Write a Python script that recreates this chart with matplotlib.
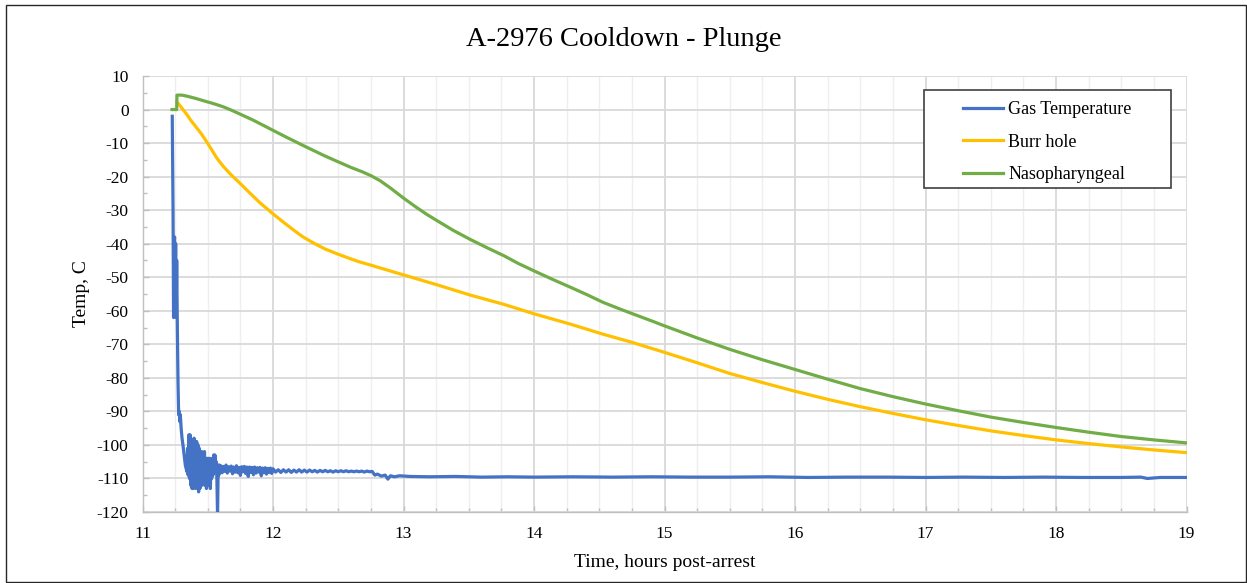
import matplotlib
matplotlib.use("Agg")
import matplotlib.pyplot as plt
from matplotlib.patches import Rectangle
from matplotlib.ticker import MultipleLocator

plt.rcParams['font.family'] = ['Liberation Serif', 'DejaVu Serif']
plt.rcParams['axes.unicode_minus'] = False

# ---------------- data ----------------
# Gas temperature: initial plunge and noisy settling
gas_t_a = [11.228, 11.234, 11.238, 11.242, 11.246, 11.250, 11.254, 11.258, 11.262, 11.267,
           11.272, 11.277, 11.282, 11.286, 11.290, 11.296, 11.303, 11.310, 11.316, 11.322,
           11.328, 11.334, 11.341,
           11.345, 11.350, 11.355, 11.360, 11.365, 11.370, 11.375, 11.380, 11.385, 11.390,
           11.395, 11.400, 11.405, 11.410, 11.415, 11.420, 11.425, 11.430, 11.435, 11.440,
           11.445, 11.450, 11.455, 11.460, 11.465, 11.470, 11.475, 11.480, 11.485, 11.490,
           11.495, 11.500, 11.505, 11.510, 11.515, 11.520, 11.525, 11.530, 11.535, 11.540,
           11.545, 11.550, 11.555, 11.560, 11.565, 11.570, 11.575, 11.580, 11.585, 11.590,
           11.595]
gas_v_a = [-2, -30, -62, -40, -38, -58, -40, -62, -45, -65,
           -81, -91, -90, -93, -91, -95, -98, -100, -102, -104,
           -106, -107, -108,
           -101, -109, -97, -110, -97, -112, -99, -113, -100, -113,
           -98, -111, -99, -113, -99, -112, -100, -114, -101, -113,
           -102, -111, -102, -112, -103, -110, -102, -112, -104, -113,
           -104, -110, -104, -112, -104, -113, -105, -110, -104, -109,
           -103, -108, -103, -108, -105, -110, -121, -106, -109, -106,
           -108]
gas_t_b = [11.60, 11.61, 11.62, 11.63, 11.64, 11.65, 11.66, 11.67, 11.68, 11.69,
           11.70, 11.71, 11.72, 11.73, 11.74, 11.75, 11.76, 11.77, 11.78, 11.79,
           11.80, 11.81, 11.82, 11.83, 11.84, 11.85, 11.86, 11.87, 11.88, 11.89,
           11.90, 11.91, 11.92, 11.93, 11.94, 11.95, 11.96, 11.97, 11.98, 11.99, 12.00]
gas_v_b = [-106.2, -108.3, -106.4, -107.9, -106.0, -108.4, -106.5, -107.8, -106.3, -108.6,
           -106.6, -108.1, -106.2, -108.3, -106.7, -109.1, -106.5, -108.0, -106.4, -108.5,
           -106.6, -109.4, -106.6, -108.2, -106.7, -108.9, -106.6, -108.4, -106.8, -108.1,
           -106.7, -109.2, -106.9, -108.3, -106.8, -108.7, -107.0, -108.2, -106.9, -108.5, -107.1]
gas_t_c = [12.02, 12.04, 12.06, 12.08, 12.10, 12.12, 12.14, 12.16, 12.18, 12.20,
           12.22, 12.24, 12.26, 12.28, 12.30, 12.32, 12.34, 12.36, 12.38, 12.40,
           12.42, 12.44, 12.46, 12.48, 12.50, 12.52, 12.54, 12.56, 12.58, 12.60,
           12.62, 12.64, 12.66, 12.68, 12.70, 12.72, 12.74, 12.76]
gas_v_c = [-108.1, -107.4, -108.2, -107.4, -108.1, -107.4, -108.2, -107.5, -108.1, -107.4,
           -108.1, -107.5, -108.1, -107.5, -108.0, -107.6, -108.1, -107.6, -108.0, -107.6,
           -108.0, -107.7, -108.1, -107.7, -108.0, -107.7, -108.0, -107.7, -108.0, -107.8,
           -108.0, -107.8, -108.0, -107.8, -108.1, -107.8, -108.0, -107.9]
gas_t_d = [12.78, 12.80, 12.83, 12.86, 12.88, 12.90, 12.93, 12.97, 13.05, 13.2, 13.4, 13.6,
           13.8, 14.0, 14.3, 14.6, 14.9, 15.2, 15.5, 15.8, 16.1, 16.4,
           16.7, 17.0, 17.3, 17.6, 17.9, 18.2, 18.5, 18.65, 18.7, 18.8, 19.0]
gas_v_d = [-109.0, -108.7, -109.3, -109.0, -110.2, -109.2, -109.5, -109.2, -109.4, -109.5,
           -109.4, -109.6, -109.5, -109.6, -109.5, -109.6, -109.5, -109.6, -109.6, -109.5,
           -109.7, -109.6, -109.6, -109.7, -109.6, -109.7, -109.6, -109.7, -109.7, -109.6,
           -110.0, -109.7, -109.7]
gas_t = gas_t_a + gas_t_b + gas_t_c + gas_t_d
gas_v = gas_v_a + gas_v_b + gas_v_c + gas_v_d

burr_t = [11.264, 11.30, 11.34, 11.37, 11.41, 11.45, 11.49, 11.53, 11.57, 11.62,
          11.68, 11.75, 11.82, 11.90, 12.0, 12.08, 12.16, 12.23, 12.32, 12.40,
          12.49, 12.58, 12.66, 12.75, 12.87, 13.0, 13.26, 13.51, 13.77, 14.0,
          14.28, 14.53, 14.75, 15.0, 15.25, 15.5, 15.75, 16.0, 16.25, 16.5,
          16.75, 17.0, 17.25, 17.5, 17.75, 18.0, 18.25, 18.5, 18.75, 19.0]
burr_v = [2.3, 0.5, -1.5, -3.2, -5.2, -7.2, -9.5, -12.0, -14.5, -17.0,
          -19.5, -22.1, -24.8, -27.8, -31.1, -33.6, -36.0, -38.0, -40.0, -41.6,
          -43.0, -44.3, -45.4, -46.4, -47.8, -49.3, -52.3, -55.3, -58.1, -60.9,
          -64.0, -67.0, -69.4, -72.4, -75.5, -78.7, -81.4, -84.0, -86.4, -88.6,
          -90.6, -92.5, -94.2, -95.8, -97.2, -98.5, -99.6, -100.6, -101.5, -102.3]

naso_t = [11.226, 11.262, 11.264, 11.30, 11.34, 11.40, 11.47, 11.55, 11.62, 11.67,
          11.75, 11.85, 11.92, 12.0, 12.1, 12.23, 12.31, 12.39, 12.5, 12.6,
          12.68, 12.75, 12.82, 12.9, 13.0, 13.1, 13.18, 13.26, 13.38, 13.51,
          13.64, 13.77, 13.88, 14.0, 14.14, 14.28, 14.4, 14.53, 14.66, 14.79,
          14.9, 15.0, 15.25, 15.5, 15.75, 16.0, 16.25, 16.5, 16.75, 17.0,
          17.25, 17.5, 17.75, 18.0, 18.25, 18.5, 18.75, 19.0]
naso_v = [0.0, 0.0, 4.3, 4.3, 4.0, 3.4, 2.6, 1.7, 0.8, 0.0,
          -1.4, -3.2, -4.6, -6.2, -8.2, -10.7, -12.2, -13.7, -15.6, -17.3,
          -18.5, -19.7, -21.2, -23.4, -26.4, -29.2, -31.3, -33.2, -36.0, -38.7,
          -41.2, -43.6, -45.9, -48.1, -50.6, -53.0, -55.1, -57.5, -59.5, -61.4,
          -63.0, -64.5, -68.1, -71.5, -74.6, -77.5, -80.4, -83.2, -85.6, -87.8,
          -89.8, -91.7, -93.3, -94.8, -96.2, -97.5, -98.5, -99.4]

series_names = ['Gas Temperature', 'Burr hole', 'Nasopharyngeal']
series_colors = ['#4472C4', '#FFC000', '#70AD47']
y_ticks = list(range(-120, 11, 10))
x_ticks = list(range(11, 20))

# ---------------- figure ----------------
W, H = 1247, 583
fig = plt.figure(figsize=(W / 100, H / 100), dpi=100)
fig.patch.set_facecolor('white')
fig.add_artist(Rectangle((6 / W, 1 - 582 / H), (1246 - 6) / W, (582 - 5) / H,
                         transform=fig.transFigure, fill=False,
                         edgecolor='#262626', linewidth=1.0))

ax = fig.add_axes([142.5 / W, 1 - 512 / H, (1186.5 - 142.5) / W, (512 - 76) / H])
ax.set_xlim(11, 19)
ax.set_ylim(-120, 10)

ax.xaxis.set_minor_locator(MultipleLocator(0.25))
ax.yaxis.set_minor_locator(MultipleLocator(5))
ax.set_xticks(x_ticks)
ax.set_yticks(y_ticks)

ax.grid(which='major', axis='x', color='#D9D9D9', linewidth=1.3, zorder=0)
ax.grid(which='minor', axis='x', color='#EFEFEF', linewidth=1.0, zorder=0)
ax.grid(which='major', axis='y', color='#D9D9D9', linewidth=1.3, zorder=0)
ax.set_axisbelow(True)

for s in ['top', 'right']:
    ax.spines[s].set_visible(False)
for s in ['left', 'bottom']:
    ax.spines[s].set_color('#BFBFBF')
    ax.spines[s].set_linewidth(1.0)

ax.tick_params(which='both', direction='in', color='#BFBFBF', width=1.0)
ax.tick_params(which='major', length=4, labelsize=12.5, pad=10, labelcolor='#000000')
ax.tick_params(which='minor', length=3)

lw = 2.3
ax.plot(gas_t, gas_v, color=series_colors[0], linewidth=lw, label=series_names[0],
        solid_joinstyle='round', zorder=3)
ax.plot(burr_t, burr_v, color=series_colors[1], linewidth=lw, label=series_names[1], zorder=3)
ax.plot(naso_t, naso_v, color=series_colors[2], linewidth=lw, label=series_names[2], zorder=3)

ax.set_xlabel('Time, hours post-arrest', fontsize=14, labelpad=9)
ax.set_ylabel('Temp, C', fontsize=14, labelpad=5)

fig.text(0.5, 1 - 40 / H, 'A-2976 Cooldown - Plunge', ha='center', va='center', fontsize=20.5)

# legend box (Excel-style) and entries
fig.add_artist(Rectangle((924 / W, 1 - 188 / H), (1171 - 924) / W, (188 - 90) / H,
                         transform=fig.transFigure, facecolor='white',
                         edgecolor='#404040', linewidth=1.2, zorder=4))
leg = ax.legend(loc='upper left', bbox_to_anchor=(963 / W, 1 - 101 / H),
                bbox_transform=fig.transFigure, fontsize=13, frameon=False,
                handlelength=2.2, handletextpad=0.3, labelspacing=0.86,
                borderpad=0, borderaxespad=0)
leg.set_zorder(5)
leg.remove()
fig.add_artist(leg)

fig.savefig('out.png', dpi=100, facecolor='white')
